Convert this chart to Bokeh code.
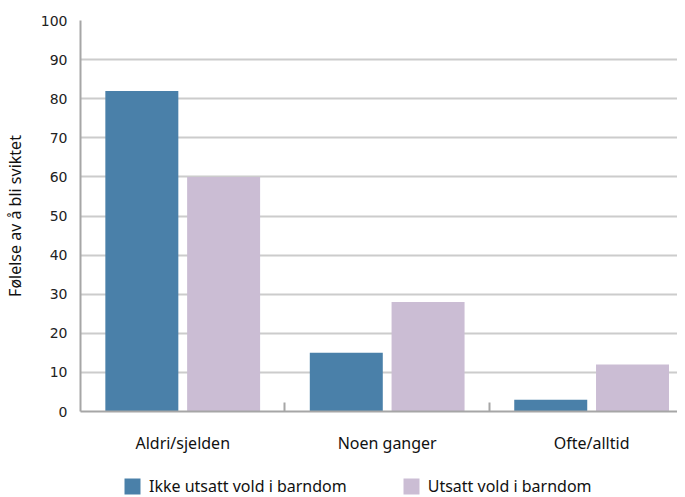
from bokeh.plotting import figure
from bokeh.layouts import column
from bokeh.models import (ColumnDataSource, Range1d, LinearAxis,
                          FixedTicker, Legend, LegendItem)
from bokeh.embed import file_html
from bokeh.resources import INLINE

categories = ["Aldri/sjelden", "Noen ganger", "Ofte/alltid"]
ikke_utsatt = [82, 15, 3]
utsatt = [60, 28, 12]
series_names = ["Ikke utsatt vold i barndom", "Utsatt vold i barndom"]
y_ticks = [0, 10, 20, 30, 40, 50, 60, 70, 80, 90, 100]

BLUE = "#4a80a9"
LILAC = "#cbbdd4"
FONT = "Noto Sans"

centers = [i + 0.5 for i in range(len(categories))]
edges = [i for i in range(1, len(categories))]
src = ColumnDataSource(dict(xa=[c - 0.2 for c in centers], xb=[c + 0.2 for c in centers],
                            a=ikke_utsatt, b=utsatt))

p = figure(x_range=Range1d(0, 2.92), y_range=Range1d(0, 100), width=677, height=474,
           output_backend="svg", toolbar_location=None, x_axis_location=None,
           min_border_left=72, min_border_right=0, min_border_top=20, min_border_bottom=63)
p.outline_line_color = None
p.background_fill_color = "white"
p.border_fill_color = "white"

p.vbar(x="xa", top="a", width=0.357, source=src, fill_color=BLUE, line_color=None)
p.vbar(x="xb", top="b", width=0.357, source=src, fill_color=LILAC, line_color=None)

# y axis
yax = p.yaxis[0]
yax.ticker = FixedTicker(ticks=y_ticks)
yax.axis_line_color = "#a6a6a6"
yax.axis_line_width = 2
yax.major_tick_line_color = None
yax.minor_tick_line_color = None
yax.major_label_text_font = "DejaVu Sans"
yax.major_label_text_font_size = "14px"
yax.major_label_text_color = "#222222"
yax.major_label_standoff = 7
yax.axis_label = "Følelse av å bli sviktet"
yax.axis_label_text_font = FONT
yax.axis_label_text_font_size = "16px"
yax.axis_label_text_font_style = "normal"
yax.axis_label_text_color = "#111111"
yax.axis_label_standoff = 12

p.ygrid.ticker = FixedTicker(ticks=y_ticks)
p.ygrid.grid_line_color = "#cccccc"
p.ygrid.grid_line_width = 2
p.xgrid.grid_line_color = None

# category edge ticks axis
edge_axis = LinearAxis(ticker=FixedTicker(ticks=edges),
                       major_label_overrides={e: "" for e in edges},
                       major_tick_in=9, major_tick_out=0, major_tick_line_color="#a6a6a6",
                       major_tick_line_width=2,
                       axis_line_color="#a6a6a6", axis_line_width=2,
                       minor_tick_line_color=None, major_label_text_font_size="1px",
                       major_label_standoff=0)
p.add_layout(edge_axis, "below")

cat_axis = LinearAxis(ticker=FixedTicker(ticks=centers),
                      major_label_overrides={c: n for c, n in zip(centers, categories)},
                      axis_line_color=None, major_tick_line_color=None,
                      minor_tick_line_color=None,
                      major_label_text_font=FONT, major_label_text_font_size="16px",
                      major_label_text_color="#111111", major_label_standoff=14)
p.add_layout(cat_axis, "below")

# legend strip (zero-height proxy bars carry the legend swatches)
pl = figure(width=677, height=23, output_backend="svg", toolbar_location=None,
            x_axis_location=None, y_axis_location=None,
            x_range=Range1d(0, 1), y_range=Range1d(0, 1),
            min_border_left=0, min_border_right=0, min_border_top=0, min_border_bottom=0)
pl.outline_line_color = None
pl.xgrid.visible = False
pl.ygrid.visible = False
l1 = pl.vbar(x="xa", top=0, width=0.1, source=src, fill_color=BLUE, line_color=None)
l2 = pl.vbar(x="xb", top=0, width=0.1, source=src, fill_color=LILAC, line_color=None)
legend = Legend(items=[LegendItem(label=series_names[0], renderers=[l1]),
                       LegendItem(label=series_names[1], renderers=[l2])],
                orientation="horizontal", location=(42, 0),
                glyph_width=20, glyph_height=20, label_standoff=7, spacing=54,
                padding=0, margin=0, border_line_color=None, background_fill_alpha=0,
                label_text_font=FONT, label_text_font_size="16px",
                label_text_color="#111111")
pl.add_layout(legend, "center")

layout = column(p, pl, spacing=0)
open("out.html", "w").write(file_html(layout, INLINE))
